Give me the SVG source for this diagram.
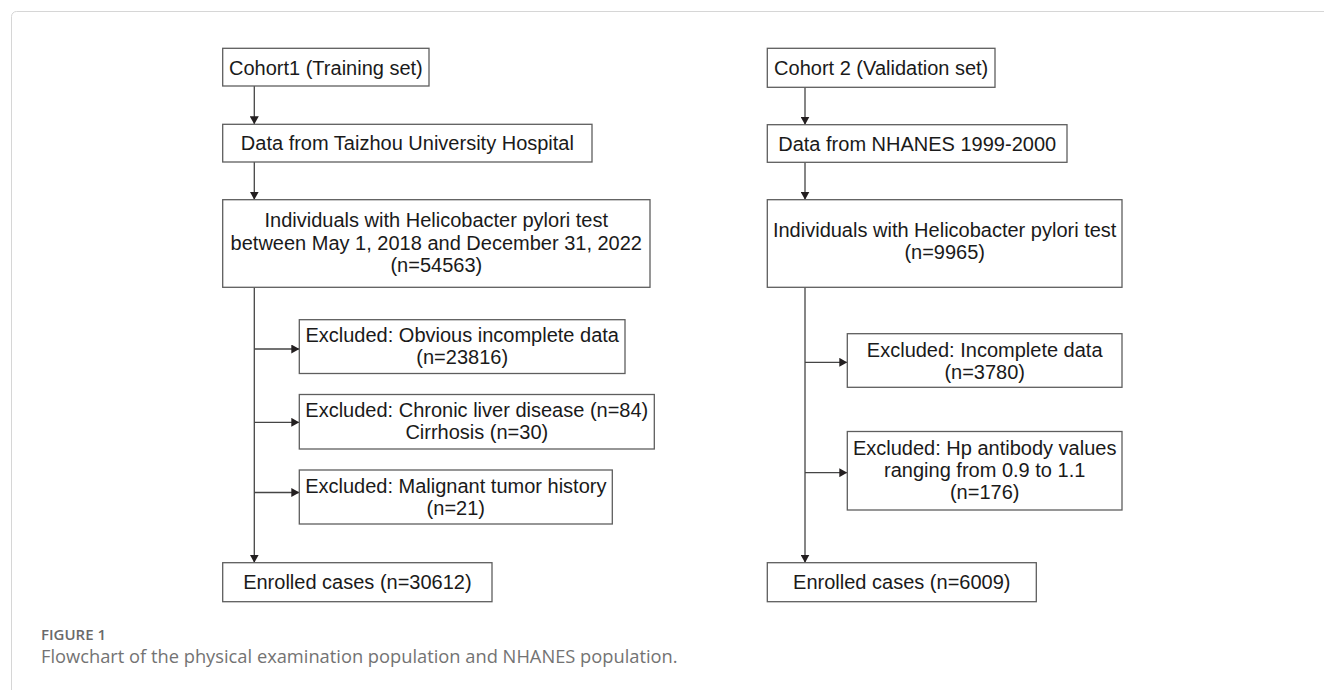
<svg xmlns="http://www.w3.org/2000/svg" width="1324" height="690" viewBox="0 0 1324 690">
<style>
.box{fill:#fff;stroke:#5e5e5e;stroke-width:1.3}
.t{font-family:"Liberation Sans",Arial,sans-serif;font-size:20px;fill:#1a1a1a;text-anchor:middle}
.c{fill:none;stroke:#454545;stroke-width:1.3}
.cap{font-family:"Open Sans","Liberation Sans",sans-serif}
</style>
<defs>
<marker id="ah" viewBox="0 0 8 9" markerWidth="8" markerHeight="9" refX="8" refY="4.5" markerUnits="userSpaceOnUse" orient="auto">
<path d="M0,0 L8,4.5 L0,9 z" fill="#231f20"/>
</marker>
</defs>
<rect x="11.5" y="11.5" width="1400" height="800" rx="5" fill="#fff" stroke="#d6d6d6" stroke-width="1"/>

<g id="connectors">
<line class="c" x1="254.3" y1="86" x2="254.3" y2="124.3" marker-end="url(#ah)"/>
<line class="c" x1="254.3" y1="162" x2="254.3" y2="199.7" marker-end="url(#ah)"/>
<line class="c" x1="254.3" y1="287.3" x2="254.3" y2="562.7" marker-end="url(#ah)"/>
<line class="c" x1="254.3" y1="349" x2="299.3" y2="349" marker-end="url(#ah)"/>
<line class="c" x1="254.3" y1="422.3" x2="299.3" y2="422.3" marker-end="url(#ah)"/>
<line class="c" x1="254.3" y1="492.5" x2="299.3" y2="492.5" marker-end="url(#ah)"/>
<line class="c" x1="805" y1="87.3" x2="805" y2="124.7" marker-end="url(#ah)"/>
<line class="c" x1="805" y1="162.3" x2="805" y2="199.7" marker-end="url(#ah)"/>
<line class="c" x1="805" y1="287.3" x2="805" y2="562.7" marker-end="url(#ah)"/>
<line class="c" x1="805" y1="362.3" x2="847.3" y2="362.3" marker-end="url(#ah)"/>
<line class="c" x1="805" y1="472.7" x2="847.3" y2="472.7" marker-end="url(#ah)"/>
</g>

<g id="cohort1">
<rect class="box" x="222.7" y="48.3" width="206.3" height="37.7"/>
<text class="t" x="325.9" y="74.5">Cohort1 (Training set)</text>
</g>
<g id="data1">
<rect class="box" x="222.7" y="124.3" width="369.3" height="37.7"/>
<text class="t" x="407.4" y="150.2">Data from Taizhou University Hospital</text>
</g>
<g id="individuals1">
<rect class="box" x="222.7" y="199.7" width="427.3" height="87.6"/>
<text class="t" x="436.3" y="227">Individuals with Helicobacter pylori test</text>
<text class="t" x="436.3" y="249.5">between May 1, 2018 and December 31, 2022</text>
<text class="t" x="436.3" y="272">(n=54563)</text>
</g>
<g id="excl1a">
<rect class="box" x="299.3" y="319.7" width="325.7" height="53.8"/>
<text class="t" x="462.2" y="342">Excluded: Obvious incomplete data</text>
<text class="t" x="462.2" y="364">(n=23816)</text>
</g>
<g id="excl1b">
<rect class="box" x="299.3" y="394.5" width="355" height="54.5"/>
<text class="t" x="476.8" y="417">Excluded: Chronic liver disease (n=84)</text>
<text class="t" x="476.8" y="439">Cirrhosis (n=30)</text>
</g>
<g id="excl1c">
<rect class="box" x="299.3" y="470" width="313" height="54"/>
<text class="t" x="455.8" y="492.7">Excluded: Malignant tumor history</text>
<text class="t" x="455.8" y="514.7">(n=21)</text>
</g>
<g id="enrolled1">
<rect class="box" x="222.7" y="562.7" width="269.3" height="39"/>
<text class="t" x="357.4" y="589">Enrolled cases (n=30612)</text>
</g>

<g id="cohort2">
<rect class="box" x="767.3" y="48.3" width="227.7" height="39"/>
<text class="t" x="881.2" y="75">Cohort 2 (Validation set)</text>
</g>
<g id="data2">
<rect class="box" x="767.3" y="124.7" width="299.7" height="37.6"/>
<text class="t" x="917.2" y="150.5">Data from NHANES 1999-2000</text>
</g>
<g id="individuals2">
<rect class="box" x="767.3" y="199.7" width="354.7" height="87.6"/>
<text class="t" x="944.7" y="237">Individuals with Helicobacter pylori test</text>
<text class="t" x="944.7" y="259">(n=9965)</text>
</g>
<g id="excl2a">
<rect class="box" x="847.3" y="333.7" width="274.7" height="53.6"/>
<text class="t" x="984.7" y="356.5">Excluded: Incomplete data</text>
<text class="t" x="984.7" y="378.5">(n=3780)</text>
</g>
<g id="excl2b">
<rect class="box" x="847.3" y="431.5" width="274.7" height="78.5"/>
<text class="t" x="984.7" y="454.5">Excluded: Hp antibody values</text>
<text class="t" x="984.7" y="476.5">ranging from 0.9 to 1.1</text>
<text class="t" x="984.7" y="498.5">(n=176)</text>
</g>
<g id="enrolled2">
<rect class="box" x="767.3" y="562.7" width="269" height="39"/>
<text class="t" x="901.8" y="589.3">Enrolled cases (n=6009)</text>
</g>

<text class="cap" x="41" y="639.5" font-size="15" font-weight="600" fill="#6a6a6a">FIGURE 1</text>
<text class="cap" x="41" y="663" font-size="18.3" fill="#737373">Flowchart of the physical examination population and NHANES population.</text>
</svg>
